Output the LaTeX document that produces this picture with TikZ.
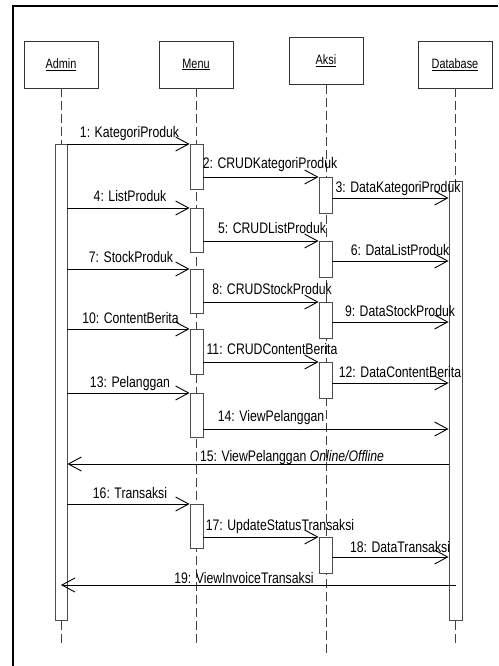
\documentclass[tikz,border=0pt]{standalone}
\usepackage{fontspec}
\setmainfont[FakeStretch=0.8]{Liberation Sans}
\usetikzlibrary{arrows.meta}
\begin{document}
\begin{tikzpicture}[x=1pt,y=-1pt,
  obj/.style={draw=black!80, line width=0.9pt, minimum width=74pt, minimum height=47pt,
              inner sep=0pt, font=\fontsize{13.6}{15}\selectfont},
  act/.style={draw=black!70, fill=white, line width=0.9pt, minimum width=13pt,
              inner sep=0pt, anchor=north},
  life/.style={draw=black!75, line width=0.9pt, dash pattern=on 9pt off 4pt},
  msg/.style={draw=black, line width=0.9pt, -{Straight Barb[length=13pt,width=14pt]}},
  lbl/.style={anchor=base, inner sep=0pt, font=\fontsize{15.3}{17}\selectfont},
]
\useasboundingbox (0,0) rectangle (498,666);

% page frame
\draw[line width=2pt] (12.5,666) -- (12.5,6) -- (498,6);

% objects
\node[obj] (hA) at (61,64.5)  {\underline{Admin}};
\node[obj] (hM) at (196,64.5) {\underline{Menu}};
\node[obj] (hK) at (326,61)   {\underline{Aksi}};
\node[obj] (hD) at (455,64.5) {\underline{Database}};

% lifelines
\coordinate (eA) at (61,646);
\coordinate (eM) at (196,646);
\coordinate (eK) at (326,653);
\coordinate (eD) at (455,646);
\draw[life] (hA.south) -- (eA);
\draw[life] (hM.south) -- (eM);
\draw[life] (hK.south) -- (eK);
\draw[life] (hD.south) -- (eD);

% activations
\node[act, minimum width=12pt, minimum height=476pt] (a0) at (61,144) {};
\node[act, minimum height=439pt] (d0) at (455.5,181) {};
\node[act, minimum height=45pt] (m1) at (196.5,144) {};
\node[act, minimum height=44pt] (m2) at (196.5,208) {};
\node[act, minimum height=44pt] (m3) at (196.5,269) {};
\node[act, minimum height=45pt] (m4) at (196.5,329) {};
\node[act, minimum height=44pt] (m5) at (196.5,393) {};
\node[act, minimum height=44pt] (m6) at (196.5,504) {};
\node[act, minimum height=36pt] (k1) at (325.5,177) {};
\node[act, minimum height=36pt] (k2) at (325.5,241) {};
\node[act, minimum height=36pt] (k3) at (325.5,302) {};
\node[act, minimum height=36pt] (k4) at (325.5,362) {};
\node[act, minimum height=36pt] (k5) at (325.5,537) {};

% messages
\draw[msg] (a0.east |- 0,144) -- (m1.north west);
\draw[msg] (m1.east |- 0,177) -- (k1.north west);
\draw[msg] (k1.east |- 0,198) -- (d0.west |- 0,198);
\draw[msg] (a0.east |- 0,208) -- (m2.north west);
\draw[msg] (m2.east |- 0,241) -- (k2.north west);
\draw[msg] (k2.east |- 0,261) -- (d0.west |- 0,261);
\draw[msg] (a0.east |- 0,269) -- (m3.north west);
\draw[msg] (m3.east |- 0,302) -- (k3.north west);
\draw[msg] (k3.east |- 0,322) -- (d0.west |- 0,322);
\draw[msg] (a0.east |- 0,329) -- (m4.north west);
\draw[msg] (m4.east |- 0,362) -- (k4.north west);
\draw[msg] (k4.east |- 0,383) -- (d0.west |- 0,383);
\draw[msg] (a0.east |- 0,393) -- (m5.north west);
\draw[msg] (m5.east |- 0,429) -- (d0.west |- 0,429);
\draw[msg] (d0.west |- 0,464) -- (a0.east |- 0,464);
\draw[msg] (a0.east |- 0,504) -- (m6.north west);
\draw[msg] (m6.east |- 0,537) -- (k5.north west);
\draw[msg] (k5.east |- 0,557) -- (d0.west |- 0,557);
\draw[msg] (d0.center |- 0,585) -- (a0.center |- 0,585);

% message labels
\node[lbl] (t1)  at (129.5,138) {1: KategoriProduk};
\node[lbl] (t2)  at (270,168)   {2: CRUDKategoriProduk};
\node[lbl] (t3)  at (398,192)   {3: DataKategoriProduk};
\node[lbl] (t4)  at (130,201)   {4: ListProduk};
\node[lbl] (t5)  at (272,233)   {5: CRUDListProduk};
\node[lbl] (t6)  at (400,255)   {6: DataListProduk};
\node[lbl] (t7)  at (131,262)   {7: StockProduk};
\node[lbl] (t8)  at (272,294)   {8: CRUDStockProduk};
\node[lbl] (t9)  at (400,316)   {9: DataStockProduk};
\node[lbl] (t10) at (130.5,323) {10: ContentBerita};
\node[lbl] (t11) at (272,354)   {11: CRUDContentBerita};
\node[lbl] (t12) at (400,377)   {12: DataContentBerita};
\node[lbl] (t13) at (130,387)   {13: Pelanggan};
\node[lbl] (t14) at (271,421)   {14: ViewPelanggan};
\node[lbl] (t15) at (292,461)   {15: ViewPelanggan \textit{Online/Offline}};
\node[lbl] (t16) at (130,498)   {16: Transaksi};
\node[lbl] (t17) at (280,530)   {17: UpdateStatusTransaksi};
\node[lbl] (t18) at (400,552)   {18: DataTransaksi};
\node[lbl] (t19) at (244,583)   {19: ViewInvoiceTransaksi};
\end{tikzpicture}
\end{document}
